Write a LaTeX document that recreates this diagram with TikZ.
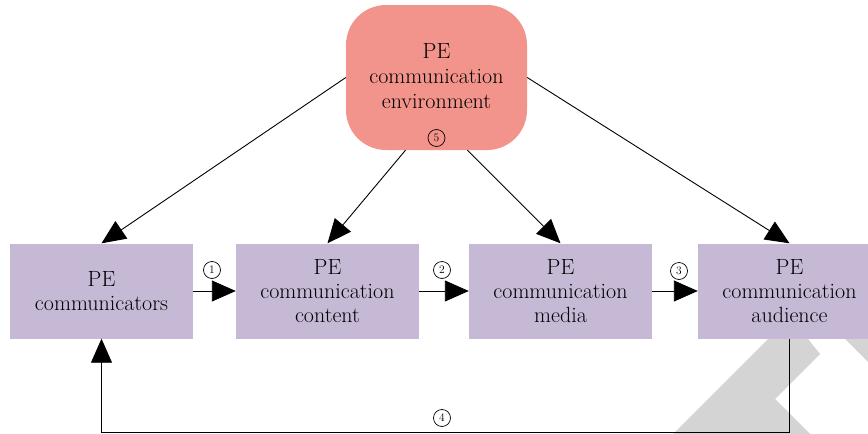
\documentclass[tikz,border=0pt]{standalone}
\usetikzlibrary{arrows.meta}
\definecolor{envred}{HTML}{F2948B}
\definecolor{lav}{HTML}{C6B9D6}
\definecolor{wm}{HTML}{D4D4D4}
\tikzset{
  boxstyle/.style={fill=lav, minimum width=183pt, minimum height=95pt, align=center, inner sep=0pt,
    font=\fontsize{22}{24}\selectfont},
  envstyle/.style={fill=envred, rounded corners=40pt, minimum width=181pt, minimum height=145pt, align=center, inner sep=0pt},
  num/.style={circle, draw, line width=0.7pt, minimum size=17pt, inner sep=0pt, font=\fontsize{11.5}{11.5}\selectfont},
  arr/.style={line width=0.9pt, -{Triangle[length=24pt,width=21pt]}},
}
\begin{document}
\begin{tikzpicture}[x=1pt,y=-1pt]
\clip (0,0) rectangle (868,434);
\fill[white] (0,0) rectangle (868,434);
% watermark
\fill[wm] (673,434) -- (778,329) -- (800,329) -- (820,354) -- (775,399) -- (810,434) -- cycle;
\fill[wm] (835,329) -- (868,329) -- (868,362) -- cycle;
% nodes
\node[envstyle] (env) at (436.5,77.5) {};
\node[align=center, inner sep=0pt, font=\fontsize{22}{25}\selectfont] (envtext) at (436.5,76) {PE\\communication\\environment};
\node[num] (n5) at (436.5,138) {5};
\node[boxstyle] (b1) at (101.5,291) {PE\\communicators};
\node[boxstyle] (b2) at (327.5,291) {PE\\communication\\content};
\node[boxstyle] (b3) at (560.5,291) {PE\\communication\\media};
\node[boxstyle] (b4) at (789.5,291) {PE\\communication\\audience};
% arrows from environment
\draw[arr] (env.west) -- (b1.north);
\draw[arr] ([xshift=-31pt]env.south) -- (b2.north);
\draw[arr] ([xshift=31pt]env.south) -- (b3.north);
\draw[arr] (env.east) -- (b4.north);
% horizontal arrows
\draw[arr] (b1.east) -- (b2.west);
\draw[arr] (b2.east) -- (b3.west);
\draw[arr] (b3.east) -- (b4.west);
\node[num] (n1) at (212,270) {1};
\node[num] (n2) at (442,270) {2};
\node[num] (n3) at (679,271) {3};
% feedback
\coordinate (fbr) at (789.5,432);
\coordinate (fbl) at (101.5,432);
\draw[arr] (b4.south) -- (fbr) -- (fbl) -- (b1.south);
\node[num] (n4) at (442,418) {4};
\end{tikzpicture}
\end{document}
